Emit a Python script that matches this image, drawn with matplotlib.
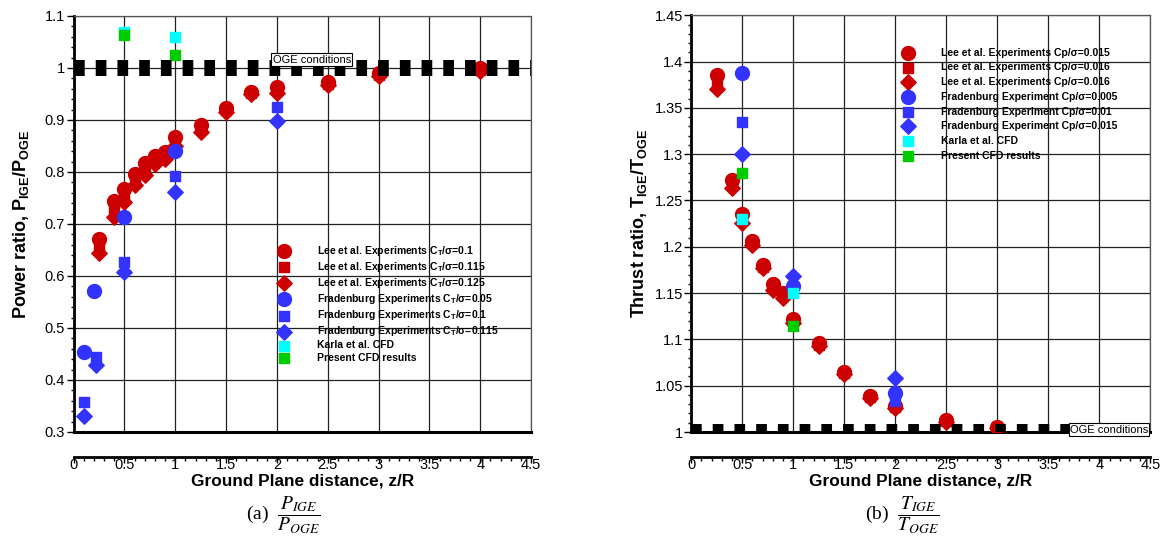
import numpy as np
import matplotlib
matplotlib.use("Agg")
import matplotlib.pyplot as plt
from matplotlib.ticker import MultipleLocator, FormatStrFormatter

plt.rcParams['font.family'] = ['Liberation Sans', 'DejaVu Sans']
plt.rcParams['mathtext.fontset'] = 'custom'
plt.rcParams['mathtext.rm'] = 'Liberation Sans:bold'
plt.rcParams['mathtext.bf'] = 'Liberation Sans:bold'
plt.rcParams['mathtext.it'] = 'Liberation Sans:bold'

RED = '#cc0000'
BLUE = '#3333ff'
CYAN = '#00ffff'
GREEN = '#00cc00'

# ---------------- (a) power ratio ----------------
lee_z = [0.25, 0.4, 0.5, 0.6, 0.7, 0.8, 0.9, 1.0, 1.25, 1.5, 1.75, 2.0, 2.5, 3.0, 4.0]
lee_p_01 = [0.672, 0.745, 0.767, 0.796, 0.817, 0.831, 0.839, 0.867, 0.890, 0.924, 0.954, 0.963, 0.974, 0.990, 1.000]
lee_p_0115 = [0.655, 0.730, 0.755, 0.785, 0.806, 0.824, 0.830, 0.856, 0.882, 0.920, 0.952, 0.957, 0.970, 0.987, 0.997]
lee_p_0125 = [0.645, 0.713, 0.742, 0.775, 0.795, 0.815, 0.825, 0.850, 0.876, 0.916, 0.950, 0.952, 0.967, 0.984, 0.995]

frad_z_a = [0.1, 0.2, 0.5, 1.0]
frad_p_005 = [0.454, 0.572, 0.714, 0.840]
frad_z_b = [0.1, 0.22, 0.5, 1.0, 2.0]
frad_p_01 = [0.358, 0.445, 0.626, 0.792, 0.925]
frad_p_0115 = [0.331, 0.428, 0.608, 0.762, 0.898]

cfd_z = [0.5, 1.0]
karla_p = [1.070, 1.060]
present_p = [1.063, 1.025]

# ---------------- (b) thrust ratio ----------------
lee_zt = [0.25, 0.4, 0.5, 0.6, 0.7, 0.8, 0.9, 1.0, 1.25, 1.5, 1.75, 2.0, 2.5, 3.0]
lee_t_015 = [1.385, 1.272, 1.235, 1.206, 1.180, 1.160, 1.150, 1.122, 1.096, 1.065, 1.039, 1.028, 1.013, 1.005]
lee_t_016a = [1.378, 1.268, 1.232, 1.204, 1.178, 1.155, 1.148, 1.120, 1.094, 1.064, 1.038, 1.027, 1.012, 1.005]
lee_t_016b = [1.370, 1.263, 1.226, 1.202, 1.177, 1.153, 1.145, 1.118, 1.093, 1.063, 1.037, 1.026, 1.011, 1.004]

frad_zt = [0.5, 1.0, 2.0]
frad_t_0005 = [1.388, 1.158, 1.042]
frad_t_001 = [1.335, 1.155, 1.033]
frad_t_0015 = [1.300, 1.168, 1.058]

karla_t = [1.230, 1.150]
present_t = [1.280, 1.114]

labels_a = [r'Lee et al. Experiments C$_\mathrm{T}$/σ=0.1',
            r'Lee et al. Experiments C$_\mathrm{T}$/σ=0.115',
            r'Lee et al. Experiments C$_\mathrm{T}$/σ=0.125',
            r'Fradenburg Experiments C$_\mathrm{T}$/σ=0.05',
            r'Fradenburg Experiments C$_\mathrm{T}$/σ=0.1',
            r'Fradenburg Experiments C$_\mathrm{T}$/σ=0.115',
            'Karla et al. CFD',
            'Present CFD results']
labels_b = ['Lee et al. Experiments Cp/σ=0.015',
            'Lee et al. Experiments Cp/σ=0.016',
            'Lee et al. Experiments Cp/σ=0.016',
            'Fradenburg Experiment Cp/σ=0.005',
            'Fradenburg Experiment Cp/σ=0.01',
            'Fradenburg Experiment Cp/σ=0.015',
            'Karla et al. CFD',
            'Present CFD results']

S_CIRC = 100
S_SQ = 58
S_DIA = 62


def style_axes(ax, ylo, yhi, ymaj, ymin):
    ax.set_xlim(0, 4.5)
    ax.set_ylim(ylo, yhi)
    ax.xaxis.set_major_locator(MultipleLocator(0.5))
    ax.xaxis.set_minor_locator(MultipleLocator(0.1))
    ax.yaxis.set_major_locator(MultipleLocator(ymaj))
    ax.yaxis.set_minor_locator(MultipleLocator(ymin))
    ax.xaxis.set_major_formatter(FormatStrFormatter('%g'))
    ax.yaxis.set_major_formatter(FormatStrFormatter('%g'))
    ax.grid(True, which='major', color='#222222', lw=0.9)
    ax.set_axisbelow(True)
    ax.spines['bottom'].set_position(('outward', 18))
    ax.spines['bottom'].set_linewidth(2)
    ax.spines['left'].set_linewidth(2)
    for s in ['top', 'right']:
        ax.spines[s].set_linewidth(0.9)
        ax.spines[s].set_color('#555555')
    ax.axhline(ylo, color='k', lw=2.2, clip_on=False, zorder=3)
    ax.tick_params(which='major', direction='out', length=5, width=1, labelsize=10.5, pad=1)
    ax.tick_params(which='minor', direction='out', length=2.5, width=1)
    ax.tick_params(axis='x', which='major', length=4, pad=-3.5)
    ax.tick_params(axis='x', which='minor', length=3)
    ax.set_xlabel('Ground Plane distance, z/R', fontsize=12.4, fontweight='bold', labelpad=1)


def plot_group(ax, zl, ys, zf_list, fs, zc, kar, pres):
    h = []
    h.append(ax.scatter(zl, ys[0], s=S_CIRC, marker='o', color=RED, zorder=4))
    h.append(ax.scatter(zl[:len(ys[1])], ys[1], s=S_SQ, marker='s', color=RED, zorder=3.9))
    h.append(ax.scatter(zl[:len(ys[2])], ys[2], s=S_DIA, marker='D', color=RED, zorder=3.8))
    h.append(ax.scatter(zf_list[0], fs[0], s=S_CIRC, marker='o', color=BLUE, zorder=4.2))
    h.append(ax.scatter(zf_list[1], fs[1], s=S_SQ, marker='s', color=BLUE, zorder=4.1))
    h.append(ax.scatter(zf_list[2], fs[2], s=S_DIA, marker='D', color=BLUE, zorder=4.1))
    h.append(ax.scatter(zc, kar, s=S_SQ, marker='s', color=CYAN, zorder=4.3))
    h.append(ax.scatter(zc, pres, s=S_SQ, marker='s', color=GREEN, zorder=4.3))
    return h


fig = plt.figure(figsize=(11.63, 5.4), dpi=100)
ax1 = fig.add_axes([0.0632, 0.2, 0.3934, 0.7704])
ax2 = fig.add_axes([0.5944, 0.2, 0.3947, 0.7717])

# (a)
style_axes(ax1, 0.3, 1.1, 0.1, 0.02)
h1 = plot_group(ax1, lee_z, [lee_p_01, lee_p_0115, lee_p_0125],
                [frad_z_a, frad_z_b, frad_z_b], [frad_p_005, frad_p_01, frad_p_0115],
                cfd_z, karla_p, present_p)
ax1.plot([0, 4.5], [1.0, 1.0], color='k', lw=11.5, dashes=(0.67, 0.69),
         solid_capstyle='butt', dash_capstyle='butt', zorder=5)
ax1.text(2.345, 1.016, 'OGE conditions', fontsize=8, ha='center', va='center', zorder=6,
         bbox=dict(boxstyle='square,pad=0.12', fc='white', ec='black', lw=0.8))
ax1.set_ylabel(r'Power ratio, P$_\mathrm{IGE}$/P$_\mathrm{OGE}$', fontsize=13,
               fontweight='bold', labelpad=10)
ax1.legend(h1, labels_a, loc='upper left', bbox_to_anchor=(0.449, 0.452), frameon=False,
           prop={'weight': 'bold', 'size': 7.5}, handlelength=1.0, handletextpad=2.7,
           labelspacing=0.2, borderaxespad=0, borderpad=0)

# (b)
style_axes(ax2, 1.0, 1.45, 0.05, 0.01)
h2 = plot_group(ax2, lee_zt, [lee_t_015, lee_t_016a, lee_t_016b],
                [frad_zt, frad_zt, frad_zt], [frad_t_0005, frad_t_001, frad_t_0015],
                cfd_z, karla_t, present_t)
ax2.plot([0, 4.5], [1.0, 1.0], color='k', lw=11.5, dashes=(0.67, 0.69),
         solid_capstyle='butt', dash_capstyle='butt', zorder=5)
ax2.text(4.095, 1.0026, 'OGE conditions', fontsize=8, ha='center', va='center', zorder=6,
         bbox=dict(boxstyle='square,pad=0.12', fc='white', ec='black', lw=0.8))
ax2.set_ylabel(r'Thrust ratio, T$_\mathrm{IGE}$/T$_\mathrm{OGE}$', fontsize=13,
               fontweight='bold', labelpad=4)
ax2.legend(h2, labels_b, loc='upper left', bbox_to_anchor=(0.461, 0.922), frameon=False,
           prop={'weight': 'bold', 'size': 7.5}, handlelength=1.0, handletextpad=2.7,
           labelspacing=0.45, borderaxespad=0, borderpad=0)

fig.text(0.2435, 0.046, r'(a)  $\dfrac{P_{IGE}}{P_{OGE}}$', fontsize=14, ha='center', va='center',
         family='Liberation Serif', math_fontfamily='stix')
fig.text(0.776, 0.046, r'(b)  $\dfrac{T_{IGE}}{T_{OGE}}$', fontsize=14, ha='center', va='center',
         family='Liberation Serif', math_fontfamily='stix')

fig.savefig('out.png', dpi=100)
